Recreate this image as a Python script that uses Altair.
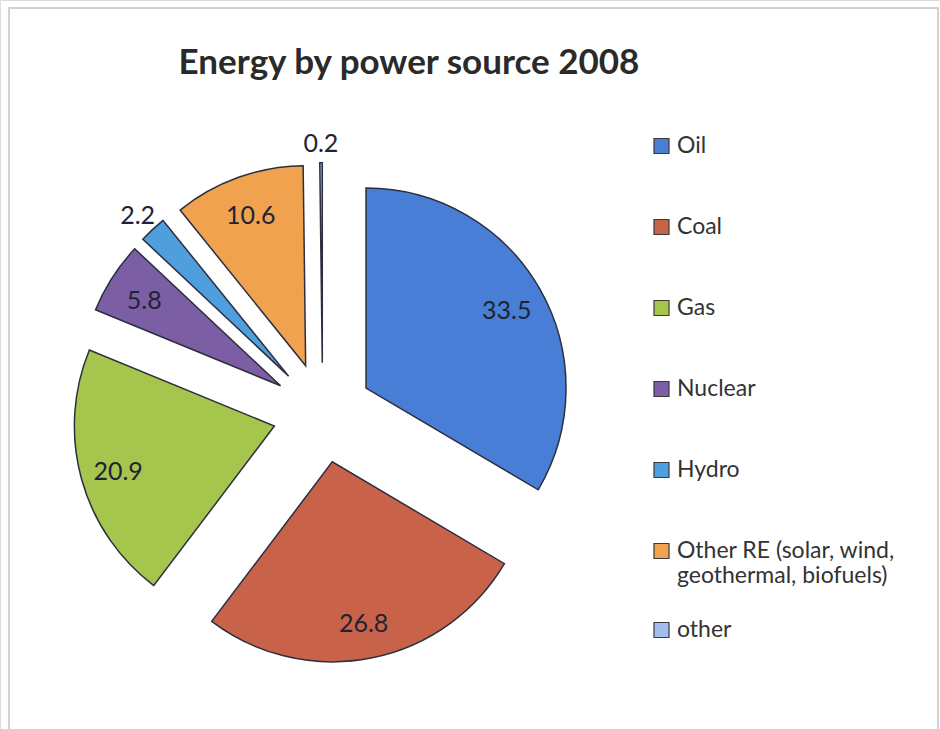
import altair as alt
import pandas as pd

# ---- data ----
categories = ["Oil", "Coal", "Gas", "Nuclear", "Hydro",
              "Other RE (solar, wind, geothermal, biofuels)", "other"]
shares = [33.5, 26.8, 20.9, 5.8, 2.2, 10.6, 0.2]
value_labels = ["33.5", "26.8", "20.9", "5.8", "2.2", "10.6", "0.2"]
colors = ["#497ED6", "#C8634A", "#A6C54C", "#7C5EA4", "#4F9EDD", "#F0A24F", "#A3BEEE"]

df = pd.DataFrame({
    "source": categories,
    "share": shares,
    "label": value_labels,
    "order": list(range(len(categories))),
})

# ---- layout constants (pixels) ----
CX, CY = 322.6, 412.8      # pie centre
R = 200                    # pie radius
EXPLODE = 50               # slice explosion distance
IN_R, OUT_R = 212, 272     # label distance from centre (inside / outside)
LEG_X = 650
LEG_FONT = 23
LEG_ROWPAD = 57

base = (
    alt.Chart(df)
    .transform_joinaggregate(total="sum(share)")
    .transform_window(cum="sum(share)", sort=[alt.SortField("order")], frame=[None, 0])
    .transform_calculate(a0="2*PI*(datum.cum - datum.share)/datum.total")
    .transform_calculate(a1="2*PI*datum.cum/datum.total")
    .transform_calculate(mid="(datum.a0 + datum.a1)/2")
    .transform_calculate(px=f"{CX} + {EXPLODE}*sin(datum.mid)")
    .transform_calculate(py=f"{CY} - {EXPLODE}*cos(datum.mid)")
    .transform_calculate(lr=f"datum.share < 3 ? {OUT_R} : {IN_R}")
    .transform_calculate(lx=f"{CX} + datum.lr*sin(datum.mid)")
    .transform_calculate(ly=f"{CY} - datum.lr*cos(datum.mid)")
)

frame = alt.Chart(df).mark_rect(fill=None, stroke="#d2d2d2", strokeWidth=2).encode(
    x=alt.value(9), x2=alt.value(938), y=alt.value(8), y2=alt.value(745)
)


def legend(y, expr=None):
    kw = dict(
        title=None,
        orient="none",
        legendX=LEG_X,
        legendY=y,
        symbolType="square",
        symbolSize=225,
        symbolStrokeWidth=1.2,
        symbolStrokeColor="#3a3a3a",
        symbolOpacity=1,
        labelFont="Lato",
        labelFontSize=LEG_FONT,
        labelColor="#333333",
        labelOffset=4,
        labelLimit=400,
        rowPadding=LEG_ROWPAD,
    )
    if expr:
        kw["labelExpr"] = expr
    return alt.Legend(**kw)


main_cats = categories[:6]
rest_cats = categories[6:]

arcs_main = base.transform_filter(
    alt.FieldOneOfPredicate(field="source", oneOf=main_cats)
).mark_arc(radius=R, stroke="#2b2f3f", strokeWidth=1.5).encode(
    theta=alt.Theta("a0:Q", scale=None),
    theta2="a1:Q",
    x=alt.X("px:Q", scale=None, axis=None),
    y=alt.Y("py:Q", scale=None, axis=None),
    color=alt.Color(
        "source:N",
        scale=alt.Scale(domain=main_cats, range=colors[:6]),
        legend=legend(
            146 - LEG_FONT / 2,
            "datum.label == 'Other RE (solar, wind, geothermal, biofuels)' ? "
            "['Other RE (solar, wind,', 'geothermal, biofuels)'] : datum.label",
        ),
    ),
)

arcs_rest = base.transform_filter(
    alt.FieldOneOfPredicate(field="source", oneOf=rest_cats)
).mark_arc(radius=R, stroke="#2b2f3f", strokeWidth=1.5).encode(
    theta=alt.Theta("a0:Q", scale=None),
    theta2="a1:Q",
    x=alt.X("px:Q", scale=None, axis=None),
    y=alt.Y("py:Q", scale=None, axis=None),
    color=alt.Color(
        "source:N",
        scale=alt.Scale(domain=rest_cats, range=colors[6:]),
        legend=legend(630 - LEG_FONT / 2),
    ),
)

text = base.mark_text(font="Lato", fontSize=25, color="#1e2435", dy=3).encode(
    x=alt.X("lx:Q", scale=None, axis=None),
    y=alt.Y("ly:Q", scale=None, axis=None),
    text="label:N",
)

chart = (
    alt.layer(frame, arcs_main, arcs_rest, text)
    .resolve_scale(color="independent")
    .properties(
        width=940,
        height=729,
        autosize="none",
        padding=0,
        title=alt.Title(
            "Energy by power source 2008",
            font="Lato",
            fontSize=35,
            fontWeight="bold",
            color="#2a2a2a",
            anchor="middle",
            dx=-61,
            dy=85,
        ),
    )
    .configure_view(stroke=None)
    .configure(background="white")
)

chart.save("out.html", embed_options={"renderer": "svg", "actions": False})
